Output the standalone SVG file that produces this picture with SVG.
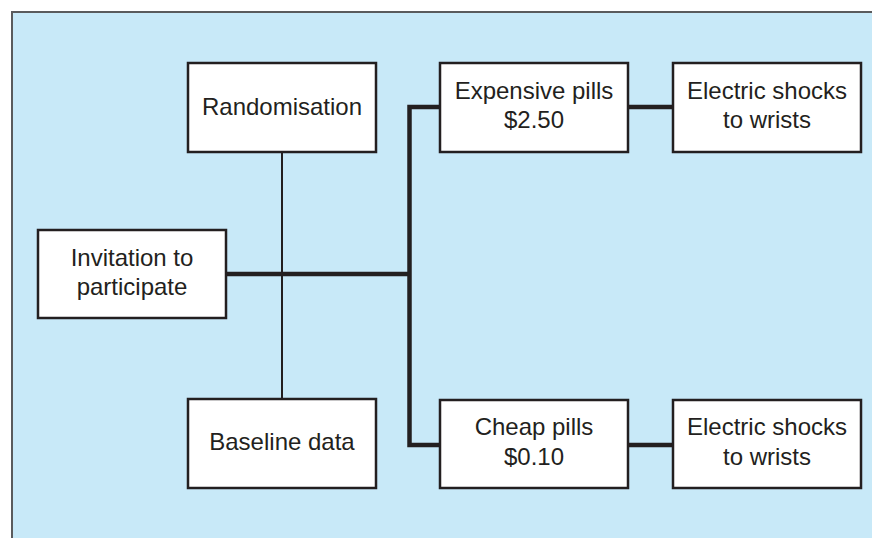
<svg xmlns="http://www.w3.org/2000/svg" width="872" height="538" viewBox="0 0 872 538">
<style>
.box{fill:#ffffff;stroke:#231f20;stroke-width:2.5}
.t{font-family:"Liberation Sans",Arial,sans-serif;font-size:24px;fill:#231f20;text-anchor:middle}
.thin{stroke:#231f20;stroke-width:2;fill:none}
.thick{stroke:#231f20;stroke-width:4.5;fill:none}
</style>
<rect x="0" y="0" width="872" height="538" fill="#ffffff"/>
<rect x="12" y="12" width="870" height="540" fill="#c8e9f8" stroke="#5a5b5d" stroke-width="2"/>
<g id="connectors">
<line class="thin" x1="282" y1="152" x2="282" y2="399"/>
<line class="thick" x1="226" y1="274" x2="409.5" y2="274"/>
<polyline class="thick" points="440,107 409.5,107 409.5,445 440,445"/>
<line class="thick" x1="628" y1="107" x2="673" y2="107"/>
<line class="thick" x1="628" y1="445" x2="673" y2="445"/>
</g>
<g id="randomisation">
<rect class="box" x="188" y="63" width="188" height="89"/>
<text class="t" x="282" y="115">Randomisation</text>
</g>
<g id="invitation">
<rect class="box" x="38" y="230" width="188" height="88"/>
<text class="t" x="132" y="266">Invitation to</text>
<text class="t" x="132" y="295">participate</text>
</g>
<g id="baseline">
<rect class="box" x="188" y="399" width="188" height="89"/>
<text class="t" x="282" y="450">Baseline data</text>
</g>
<g id="expensive">
<rect class="box" x="440" y="63" width="188" height="89"/>
<text class="t" x="534" y="99">Expensive pills</text>
<text class="t" x="534" y="128">$2.50</text>
</g>
<g id="shocks1">
<rect class="box" x="673" y="63" width="188" height="89"/>
<text class="t" x="767" y="99">Electric shocks</text>
<text class="t" x="767" y="128">to wrists</text>
</g>
<g id="cheap">
<rect class="box" x="440" y="400" width="188" height="88"/>
<text class="t" x="534" y="435">Cheap pills</text>
<text class="t" x="534" y="465">$0.10</text>
</g>
<g id="shocks2">
<rect class="box" x="673" y="400" width="188" height="88"/>
<text class="t" x="767" y="435">Electric shocks</text>
<text class="t" x="767" y="465">to wrists</text>
</g>
</svg>
